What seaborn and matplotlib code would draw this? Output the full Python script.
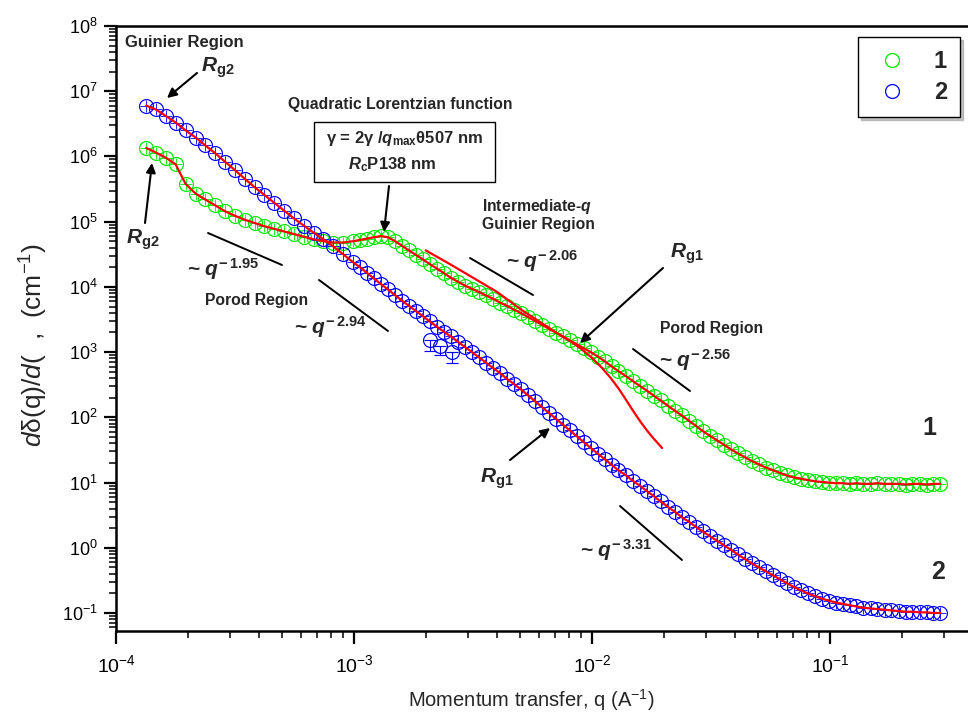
import numpy as np
import matplotlib
matplotlib.use("Agg")
import matplotlib.pyplot as plt
from matplotlib import font_manager
from matplotlib.lines import Line2D
from matplotlib.patches import Rectangle
from matplotlib.ticker import FixedLocator, LogLocator, NullFormatter
import seaborn as sns

# ============ DATA ============
# momentum transfer q (1/A), shared by both samples
q = [1.34e-4, 1.47e-4, 1.62e-4, 1.78e-4, 1.96e-4, 2.16e-4, 2.37e-4, 2.61e-4, 2.87e-4, 3.16e-4,
     3.47e-4, 3.82e-4, 4.20e-4, 4.62e-4, 5.08e-4, 5.59e-4, 6.15e-4, 6.77e-4, 7.44e-4, 8.19e-4,
     9.00e-4, 9.90e-4,
     1.06e-3, 1.13e-3, 1.21e-3, 1.30e-3, 1.39e-3, 1.49e-3, 1.59e-3, 1.70e-3, 1.82e-3, 1.95e-3,
     2.08e-3, 2.23e-3, 2.39e-3, 2.55e-3, 2.73e-3, 2.92e-3, 3.13e-3, 3.35e-3, 3.58e-3, 3.83e-3,
     4.10e-3, 4.39e-3, 4.70e-3, 5.02e-3, 5.37e-3, 5.75e-3, 6.15e-3, 6.58e-3, 7.04e-3, 7.54e-3,
     8.06e-3, 8.63e-3, 9.23e-3, 9.88e-3,
     1.06e-2, 1.13e-2, 1.21e-2, 1.29e-2, 1.39e-2, 1.48e-2, 1.59e-2, 1.70e-2, 1.82e-2, 1.94e-2,
     2.08e-2, 2.23e-2, 2.38e-2, 2.55e-2, 2.73e-2, 2.92e-2, 3.12e-2, 3.34e-2, 3.58e-2, 3.83e-2,
     4.09e-2, 4.38e-2, 4.69e-2, 5.02e-2, 5.37e-2, 5.74e-2, 6.14e-2, 6.57e-2, 7.03e-2, 7.53e-2,
     8.05e-2, 8.62e-2, 9.22e-2, 9.86e-2,
     0.106, 0.113, 0.121, 0.129, 0.138, 0.148, 0.158, 0.170, 0.181, 0.194,
     0.208, 0.222, 0.238, 0.255, 0.272, 0.291]

# log10 of dSigma/dOmega (1/cm), sample 1 (green)
log_i1 = [6.13, 6.06, 5.98, 5.88, 5.58, 5.43, 5.34, 5.25, 5.16, 5.09,
          5.03, 4.98, 4.93, 4.89, 4.85, 4.81, 4.77, 4.73, 4.70, 4.68,
          4.68, 4.70,
          4.72, 4.74, 4.76, 4.78, 4.76, 4.70, 4.63, 4.56, 4.49, 4.42,
          4.35, 4.28, 4.21, 4.14, 4.08, 4.02, 3.97, 3.92, 3.87, 3.82,
          3.76, 3.71, 3.65, 3.60, 3.54, 3.48, 3.42, 3.36, 3.30, 3.24,
          3.18, 3.12, 3.06, 3.00,
          2.93, 2.86, 2.78, 2.71, 2.63, 2.56, 2.48, 2.41, 2.33, 2.26,
          2.18, 2.10, 2.03, 1.95, 1.87, 1.79, 1.72, 1.65, 1.58, 1.51,
          1.45, 1.39, 1.33, 1.28, 1.23, 1.19, 1.15, 1.11, 1.08, 1.06,
          1.04, 1.02, 1.01, 1.00,
          0.99, 0.99, 0.98, 0.99, 0.98, 0.98, 0.99, 0.98, 0.98, 0.98,
          0.97, 0.98, 0.98, 0.97, 0.98, 0.98]

# log10 of dSigma/dOmega (1/cm), sample 2 (blue)
log_i2 = [6.78, 6.72, 6.62, 6.52, 6.40, 6.29, 6.17, 6.05, 5.92, 5.79,
          5.66, 5.53, 5.41, 5.29, 5.17, 5.05, 4.94, 4.83, 4.73, 4.62,
          4.50, 4.38,
          4.30, 4.22, 4.13, 4.04, 3.96, 3.87, 3.79, 3.71, 3.63, 3.55,
          3.47, 3.39, 3.31, 3.24, 3.16, 3.08, 3.00, 2.92, 2.84, 2.76,
          2.68, 2.59, 2.51, 2.43, 2.34, 2.25, 2.16, 2.07, 1.98, 1.89,
          1.80, 1.71, 1.62, 1.53,
          1.44, 1.36, 1.27, 1.19, 1.11, 1.03, 0.95, 0.87, 0.79, 0.71,
          0.63, 0.55, 0.47, 0.40, 0.32, 0.25, 0.18, 0.11, 0.04, -0.03,
          -0.10, -0.17, -0.24, -0.30, -0.36, -0.42, -0.48, -0.54, -0.60, -0.65,
          -0.70, -0.74, -0.78, -0.81,
          -0.84, -0.86, -0.88, -0.90, -0.92, -0.93, -0.94, -0.95, -0.96, -0.97,
          -0.98, -0.98, -0.99, -0.99, -1.00, -1.00]

# stray sample-2 points with large error bars
out_q = [2.09e-3, 2.30e-3, 2.58e-3]
out_log = [3.18, 3.10, 3.00]
out_log_low = [3.02, 2.95, 2.83]

# intermediate-q Guinier fit for sample 1
guin_q = [2.0e-3, 2.5e-3, 3.0e-3, 4.0e-3, 5.0e-3, 6.0e-3, 7.0e-3, 8.0e-3, 9.0e-3, 1.0e-2,
          1.1e-2, 1.2e-2, 1.3e-2, 1.4e-2, 1.5e-2, 1.6e-2, 1.7e-2, 1.8e-2, 1.97e-2]
guin_log = [4.56, 4.36, 4.19, 3.92, 3.66, 3.47, 3.31, 3.18, 3.05, 2.91,
            2.76, 2.60, 2.43, 2.25, 2.08, 1.93, 1.80, 1.69, 1.53]

# axis decades shown
x_decades = [1e-4, 1e-3, 1e-2, 1e-1]
y_decades = [1e-1, 1e0, 1e1, 1e2, 1e3, 1e4, 1e5, 1e6, 1e7, 1e8]

GREEN = "#00e600"
BLUE = "#0000ff"
RED = "#ff0000"

# ============ STYLE ============
sns.set_style("ticks")
names = {f.name for f in font_manager.fontManager.ttflist}
NARROW = "Liberation Sans Narrow" if "Liberation Sans Narrow" in names else "Liberation Sans"
plt.rcParams["font.family"] = ["Liberation Sans", "DejaVu Sans"]
plt.rcParams["mathtext.fontset"] = "custom"
plt.rcParams["mathtext.rm"] = "Liberation Sans"
plt.rcParams["mathtext.it"] = "Liberation Sans:italic:bold"
plt.rcParams["mathtext.bf"] = "Liberation Sans:bold"
plt.rcParams["mathtext.sf"] = "Liberation Sans:italic"

fig = plt.figure(figsize=(9.68, 7.25), dpi=100)
ax = fig.add_axes([116 / 968, 94 / 725, 852 / 968, 605 / 725])
ax.set_xscale("log")
ax.set_yscale("log")


def fx(x):
    return (x - 116) / 852


def fy(y):
    return (631 - y) / 605


i1 = np.power(10.0, log_i1)
i2 = np.power(10.0, log_i2)

# markers: open circles with small error crosses
for vals, col in [(i1, GREEN), (i2, BLUE)]:
    sns.lineplot(x=q, y=vals, ax=ax, estimator=None, sort=False, linestyle="",
                 marker="o", markersize=10, markerfacecolor="none",
                 markeredgecolor=col, markeredgewidth=0.85, color=col)
    sns.lineplot(x=q, y=vals, ax=ax, estimator=None, sort=False, linestyle="",
                 marker="+", markersize=8.5, markeredgecolor=col,
                 markeredgewidth=0.6, color=col)

oy = np.power(10.0, out_log)
olow = oy - np.power(10.0, out_log_low)
ax.errorbar(out_q, oy, yerr=[olow, np.zeros(len(oy))], fmt="o", ms=10,
            mfc="none", mec=BLUE, mew=0.85, ecolor=BLUE, elinewidth=0.8, capsize=4)

# fits
sns.lineplot(x=q, y=i1, ax=ax, estimator=None, color=RED, lw=1.6)
sns.lineplot(x=q, y=i2, ax=ax, estimator=None, color=RED, lw=1.6)
sns.lineplot(x=guin_q, y=np.power(10.0, guin_log), ax=ax, estimator=None, color=RED, lw=1.6)

ax.set_xlim(1e-4, 0.38)
ax.set_ylim(10 ** -1.276, 1e8)

# ============ AXES ============
for s in ["top", "left", "bottom"]:
    ax.spines[s].set_linewidth(1.8)
    ax.spines[s].set_color("black")
ax.spines["right"].set_visible(False)

ax.xaxis.set_major_locator(FixedLocator(x_decades))
ax.xaxis.set_minor_locator(LogLocator(base=10, subs=np.arange(2, 10), numticks=20))
ax.yaxis.set_major_locator(FixedLocator(y_decades))
ax.yaxis.set_minor_locator(LogLocator(base=10, subs=np.arange(2, 10), numticks=20))
ax.xaxis.set_minor_formatter(NullFormatter())
ax.yaxis.set_minor_formatter(NullFormatter())
ax.tick_params(which="major", direction="out", length=9, width=1.6, colors="black",
               top=False, right=False)
ax.tick_params(which="minor", direction="out", length=5, width=1.1, colors="black",
               top=False, right=False)
ax.tick_params(axis="y", which="major", labelsize=13, pad=4)
ax.tick_params(axis="x", which="major", labelsize=14, pad=8)
for lab in ax.get_xticklabels():
    lab.set_fontfamily(NARROW)

ax.set_xlabel(r"Momentum transfer, q (A$^{\mathrm{-1}}$)", fontsize=14.5, family=NARROW)
ax.xaxis.set_label_coords(fx(531), fy(687))
ax.set_ylabel(r"$\mathsf{d}$δ(q)/$\mathsf{d}$(  ,  (cm$^{\mathrm{-1}}$)", fontsize=19)
ax.yaxis.set_label_coords(fx(50), fy(345))

# ============ LEGEND ============
handles = [
    Line2D([], [], ls="", marker="o", ms=10, mfc="none", mec=GREEN, mew=0.9),
    Line2D([], [], ls="", marker="o", ms=10, mfc="none", mec=BLUE, mew=0.9),
]
leg = ax.legend(handles, ["1", "2"], loc="upper right",
                bbox_to_anchor=(fx(960), fy(37)), borderaxespad=0,
                prop={"weight": "bold", "size": 17}, frameon=True, fancybox=False,
                edgecolor="black", framealpha=1, handlelength=1.75,
                handletextpad=0.9, labelspacing=0.35, borderpad=0.55,
                shadow={"ox": 2, "oy": -2, "color": "0.55"})
leg.get_frame().set_linewidth(1.0)

# ============ ANNOTATIONS ============
T = ax.transAxes


def label(x, y, s, size=11.3, **kw):
    ax.text(fx(x), fy(y), s, transform=T, ha="center", va="center",
            fontsize=size, fontweight="bold", **kw)


def arrow(x0, y0, x1, y1):
    ax.annotate("", xy=(fx(x1), fy(y1)), xytext=(fx(x0), fy(y0)),
                xycoords="axes fraction", textcoords="axes fraction",
                arrowprops=dict(arrowstyle="-|>", color="black", lw=1.5,
                                mutation_scale=14, shrinkA=0, shrinkB=0))


def slope(x0, y0, x1, y1):
    ax.plot([fx(x0), fx(x1)], [fy(y0), fy(y1)], transform=T, color="black", lw=1.4)


label(184, 42, "Guinier Region", size=12)
label(218, 68, r"$R_{\mathbf{g2}}$", size=15)
arrow(197, 73, 167, 98)
label(143, 240, r"$R_{\mathbf{g2}}$", size=15)
arrow(145, 223, 152, 163)

label(400, 105, "Quadratic Lorentzian function")
ax.add_patch(Rectangle((fx(314), fy(182)), fx(495) - fx(314), fy(122) - fy(182),
                       transform=T, facecolor="white", edgecolor="black", lw=1.0, zorder=5))
label(405, 138, r"γ = 2γ /$q_{\mathbf{max}}$θ507 nm", size=12, zorder=6)
label(392, 165, r"$R_{\mathbf{c}}$P138 nm", size=12, zorder=6)
arrow(389, 186, 384, 232)

label(223, 269, r"~ $q^{\mathbf{-\,1.95}}$", size=15)
slope(208, 233, 282, 265)
label(257, 301, "Porod Region")
label(330, 327, r"~ $q^{\mathbf{-\,2.94}}$", size=15)
slope(319, 280, 388, 331)

label(537, 206, r"Intermediate-$q$")
label(538, 225, "Guinier Region")
label(542, 261, r"~ $q^{\mathbf{-\,2.06}}$", size=15)
slope(470, 258, 533, 295)

label(687, 254, r"$R_{\mathbf{g1}}$", size=15)
arrow(663, 268, 580, 343)
label(712, 328, "Porod Region")
label(695, 360, r"~ $q^{\mathbf{-\,2.56}}$", size=15)
slope(633, 349, 690, 391)

label(497, 479, r"$R_{\mathbf{g1}}$", size=15)
arrow(510, 460, 550, 428)
label(616, 550, r"~ $q^{\mathbf{-\,3.31}}$", size=15)
slope(620, 506, 682, 560)

label(929, 428, "1", size=18)
label(938, 572, "2", size=18)

fig.savefig("out.png", dpi=100)
